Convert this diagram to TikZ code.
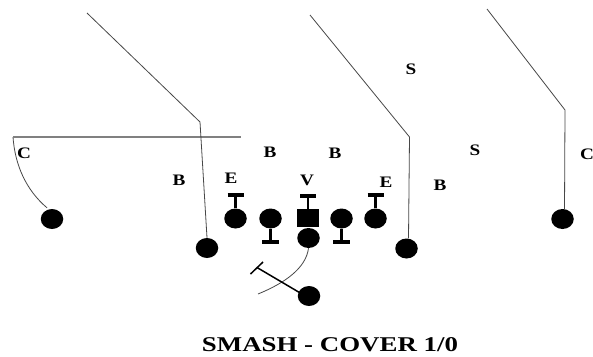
\documentclass[tikz,border=0pt]{standalone}
\usepackage{fontspec}
\setmainfont{Liberation Serif}
\usetikzlibrary{shapes.geometric,calc}
\begin{document}
\begin{tikzpicture}[x=1pt,y=-1pt,
  player/.style={ellipse,fill=black,inner sep=0pt,minimum width=22.5pt,minimum height=20pt},
  ctrbox/.style={rectangle,fill=black,inner sep=0pt,minimum width=22pt,minimum height=18pt},
  lbl/.style={font=\fontsize{16}{16}\selectfont\bfseries,inner sep=0pt},
  route/.style={draw=black!72,line width=0.8pt},
  flat/.style={draw=black!50,line width=1.4pt},
  block/.style={draw=black,line width=1.5pt},
  tstem/.style={draw=black,line width=2.6pt},
  tbar/.style={draw=black,line width=3.8pt},
 ]
\path[use as bounding box,fill=white] (0,0) rectangle (593,356);

% offense
\node[player] (lwr) at (52,219) {};
\node[player] (lslot) at (207,248) {};
\node[player] (le) at (235.5,218.5) {};
\node[player] (lg) at (270.5,218.5) {};
\node[ctrbox] (c) at (308,218) {};
\node[player] (qb) at (308.5,238) {};
\node[player] (rg) at (341.5,218.5) {};
\node[player] (re) at (375.5,218.5) {};
\node[player] (rslot) at (406.5,248.5) {};
\node[player] (rwr) at (562.5,219) {};
\node[player] (rb) at (309,296) {};

% blocking T marks
\foreach \n in {le,c,re}{
  \draw[tstem] (\n.north) -- ++(0,-13) coordinate (\n-t);
  \draw[tbar] ($(\n-t)+(-8,0)$) -- ($(\n-t)+(8,0)$);
}
\foreach \n in {lg,rg}{
  \draw[tstem] (\n.south) -- ++(0,13) coordinate (\n-t);
  \draw[tbar] ($(\n-t)+(-8.5,0)$) -- ($(\n-t)+(8.5,0)$);
}

% route points
\coordinate (lwrA) at (13,137);
\coordinate (lwrB) at (241,137);
\coordinate (lsB) at (200,122);
\coordinate (lsT) at (87,13);
\coordinate (rsB) at (409.5,137);
\coordinate (rsT) at (310,15);
\coordinate (rwB) at (565,110);
\coordinate (rwT) at (487,9);
\coordinate (qbE) at (258,294);
\coordinate (rbE) at (257,267.5);
\coordinate (rbT1) at (250.5,274);
\coordinate (rbT2) at (263,262);

% routes
\draw[route] ($(lwr.north)+(-5,-1)$) .. controls (26,190) and (15,165) .. (lwrA);
\draw[flat] (lwrA) -- (lwrB);
\draw[route] (lslot.north) -- (lsB) -- (lsT);
\draw[route] ($(rslot.north)+(2,0)$) -- (rsB) -- (rsT);
\draw[route] ($(rwr.north)+(2,1)$) -- (rwB) -- (rwT);
\draw[route] (qb.south) .. controls (306,268) and (285,283) .. (qbE);
\draw[block] ($(rb.north west)!0.5!(rb.west)$) -- (rbE);
\draw[block] (rbT1) -- (rbT2);

% defense labels
\node[lbl] (dC1) at (24,153) {\scalebox{1.2}[1]{C}};
\node[lbl] (dB1) at (179,180) {\scalebox{1.2}[1]{B}};
\node[lbl] (dE1) at (231,178) {\scalebox{1.2}[1]{E}};
\node[lbl] (dB2) at (270,152) {\scalebox{1.2}[1]{B}};
\node[lbl] (dB3) at (335,153) {\scalebox{1.2}[1]{B}};
\node[lbl] (dV) at (307,180) {\scalebox{1.2}[1]{V}};
\node[lbl] (dE2) at (386,182) {\scalebox{1.2}[1]{E}};
\node[lbl] (dS1) at (411,69) {\scalebox{1.2}[1]{S}};
\node[lbl] (dS2) at (475,150) {\scalebox{1.2}[1]{S}};
\node[lbl] (dB4) at (440,185) {\scalebox{1.2}[1]{B}};
\node[lbl] (dC2) at (587,154) {\scalebox{1.2}[1]{C}};

% title
\node[font=\fontsize{21}{21}\selectfont\bfseries,inner sep=0pt] (title) at (330,345) {\scalebox{1.28}[1]{SMASH - COVER 1/0}};
\end{tikzpicture}
\end{document}
